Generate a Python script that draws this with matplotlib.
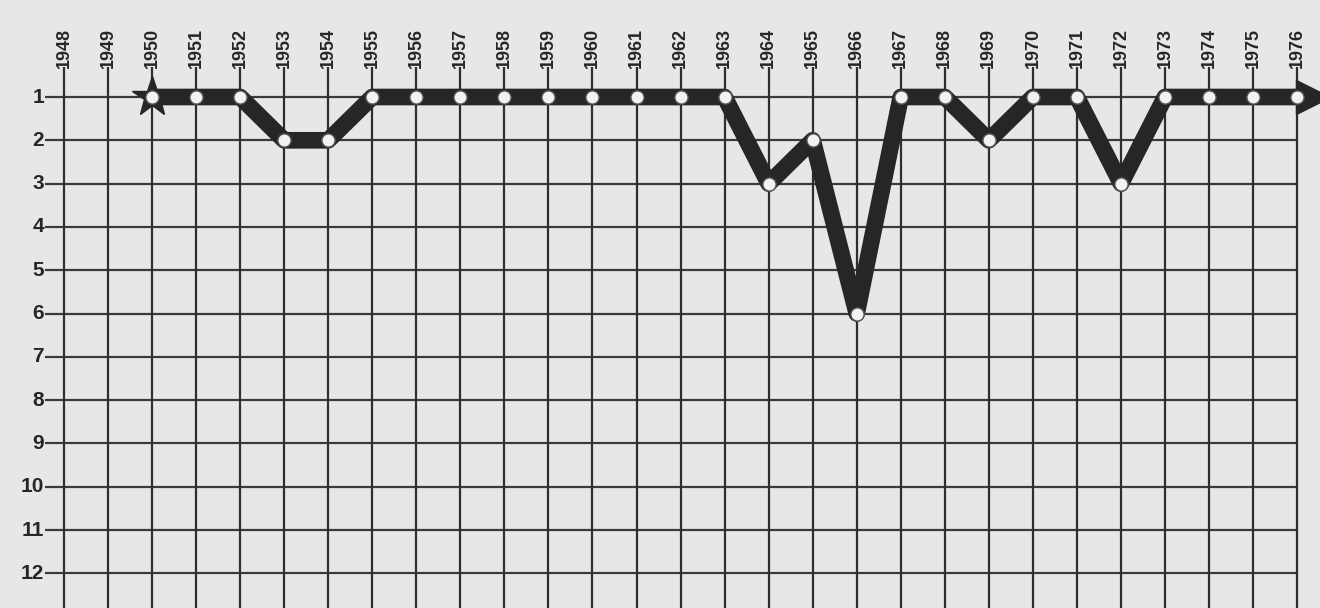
import matplotlib.pyplot as plt

# years shown on the grid and the ranking of each year
years = list(range(1948, 1977))
ranks = list(range(1, 13))
data_years = list(range(1950, 1977))
data_rank = [1, 1, 1, 2, 2, 1, 1, 1, 1, 1, 1, 1, 1, 1,
             3, 2, 6, 1, 1, 2, 1, 1, 3, 1, 1, 1, 1]

bg = "#e7e7e5"
ink = "#262626"
plt.rcParams['font.family'] = ['Liberation Sans', 'DejaVu Sans']

fig = plt.figure(figsize=(13.2, 6.08), dpi=100, facecolor=bg)
ax = fig.add_axes([0, 0, 1, 1], facecolor=bg)

# pixel layout -> data limits
px_year = 44.04
px_rank = 43.3
ax.set_xlim(1948 - 64 / px_year, 1948 + (1320 - 64) / px_year)
ax.set_ylim(1 + (608 - 97) / px_rank, 1 - 97 / px_rank)
ax.axis('off')

# grid
x_left = 1948 - 19 / px_year
for r in ranks:
    ax.plot([x_left, years[-1]], [r, r], color="#3a3a3a", lw=1.6, zorder=1,
            solid_capstyle='butt')
y_top = 1 - 30 / px_rank
y_bot = 1 + (608 - 97) / px_rank
for y in years:
    ax.plot([y, y], [y_top, y_bot], color="#2e2e2e", lw=1.6, zorder=1,
            solid_capstyle='butt')

# labels
for y in years:
    ax.text(y, y_top + 0.02, str(y), rotation=90, ha='center', va='bottom',
            fontsize=13, fontweight='bold', color=ink)
for r in ranks:
    ax.text(x_left - 0.02, r, str(r), ha='right', va='center',
            fontsize=15, fontweight='bold', color=ink)

# ranking line with arrow at the end
end_x = data_years[-1] + 0.3
ax.plot(data_years + [end_x], data_rank + [data_rank[-1]], color=ink, lw=12,
        zorder=3, solid_joinstyle='round', solid_capstyle='butt')
ax.plot(data_years[-1] + 0.35, data_rank[-1], marker='>', ms=24, color=ink,
        mec=ink, zorder=3)
ax.plot(data_years[0], data_rank[0], marker='*', ms=30, color=ink,
        mec=ink, zorder=3)
ax.plot(data_years, data_rank, 'o', ms=9.5, mfc='#f2f2f2', mec='#555555',
        mew=1.0, zorder=4)

fig.savefig('out.png', dpi=100, facecolor=bg)
